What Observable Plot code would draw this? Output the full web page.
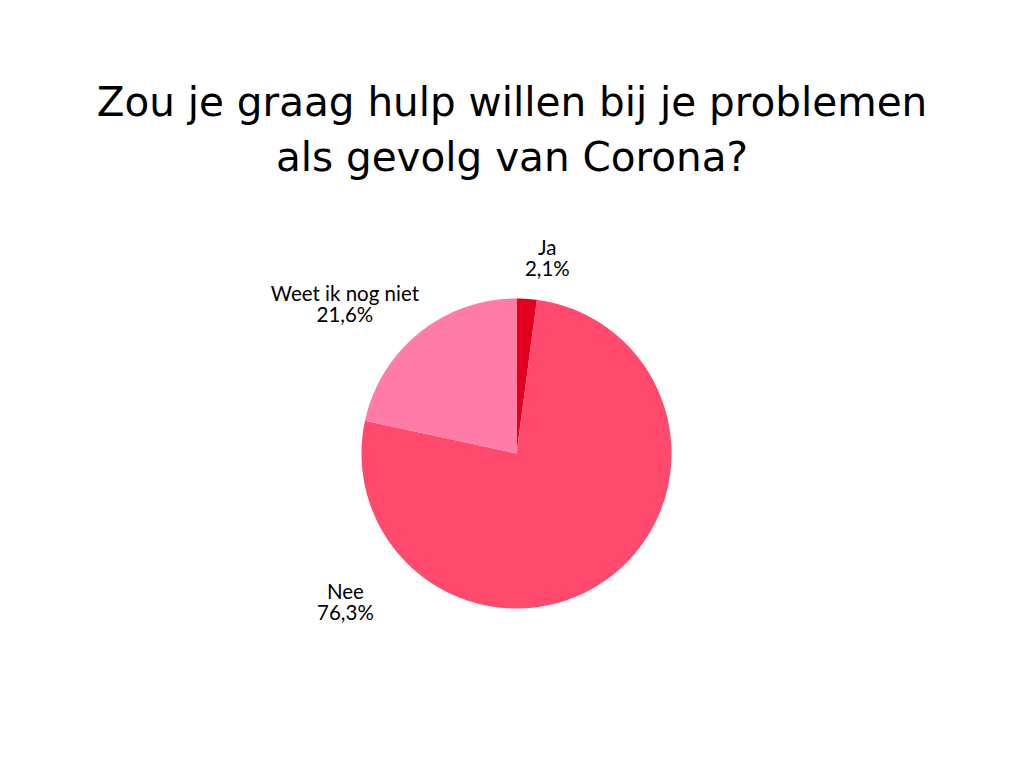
<!DOCTYPE html>
<html>
<head>
<meta charset="utf-8">
<script src="https://cdn.jsdelivr.net/npm/d3@7"></script>
<script src="https://cdn.jsdelivr.net/npm/@observablehq/plot@0.6"></script>
<style>
  html, body { margin: 0; padding: 0; background: #fff; }
  #title {
    box-sizing: border-box;
    height: 200px;
    padding-top: 75px;
    margin: 0;
    text-align: center;
    font-family: "DejaVu Sans", sans-serif;
    font-weight: normal;
    font-size: 40.5px;
    line-height: 55px;
    color: #000;
  }
  #chart svg { display: block; }
</style>
</head>
<body>
<div id="title">Zou je graag hulp willen bij je problemen<br>als gevolg van Corona?</div>
<div id="chart"></div>
<script>
// Data
const categories = ["Ja", "Nee", "Weet ik nog niet"];
const percentages = [2.1, 76.3, 21.6];

// Styles / layout (not data)
const colors = ["#e3001f", "#ff4a6e", "#ff7ba8"];
const radius = 155;
const labelAngles = [9.0, 228.9, 310.9];   // degrees clockwise from top
const labelRadii = [197, 227, 227];

const W = 1024, H = 568;
const cx = 516, cy = 253;

// Slice geometry from the data
const total = d3.sum(percentages);
let acc = 0;
const slices = categories.map((c, i) => {
  const a0 = acc / total * 2 * Math.PI;
  acc += percentages[i];
  const a1 = acc / total * 2 * Math.PI;
  return {category: c, a0, a1, value: percentages[i]};
});

const arcPoints = [];
for (const s of slices) {
  arcPoints.push({category: s.category, x: 0, y: 0});
  const n = Math.max(2, Math.ceil((s.a1 - s.a0) / (Math.PI / 360)));
  for (let k = 0; k <= n; k++) {
    const a = s.a0 + (s.a1 - s.a0) * k / n;
    arcPoints.push({category: s.category, x: radius * Math.sin(a), y: radius * Math.cos(a)});
  }
}

const fmt = v => v.toFixed(1).replace(".", ",") + "%";
const labels = slices.map((s, i) => {
  const a = labelAngles[i] * Math.PI / 180;
  return {
    text: s.category + "\n" + fmt(s.value),
    x: labelRadii[i] * Math.sin(a),
    y: labelRadii[i] * Math.cos(a)
  };
});

const chart = Plot.plot({
  width: W,
  height: H,
  margin: 0,
  x: {domain: [-cx, W - cx], axis: null},
  y: {domain: [-(H - cy), cy], axis: null},
  color: {domain: categories, range: colors},
  marks: [
    Plot.line(arcPoints, {x: "x", y: "y", z: "category", fill: "category", stroke: null, curve: "linear-closed"}),
    Plot.text(labels, {
      x: "x", y: "y", text: "text",
      fontFamily: "Lato", fontSize: 20.5, lineHeight: 1.03,
      fill: "#000", textAnchor: "middle", lineAnchor: "middle"
    })
  ]
});
document.getElementById("chart").appendChild(chart);
</script>
</body>
</html>
